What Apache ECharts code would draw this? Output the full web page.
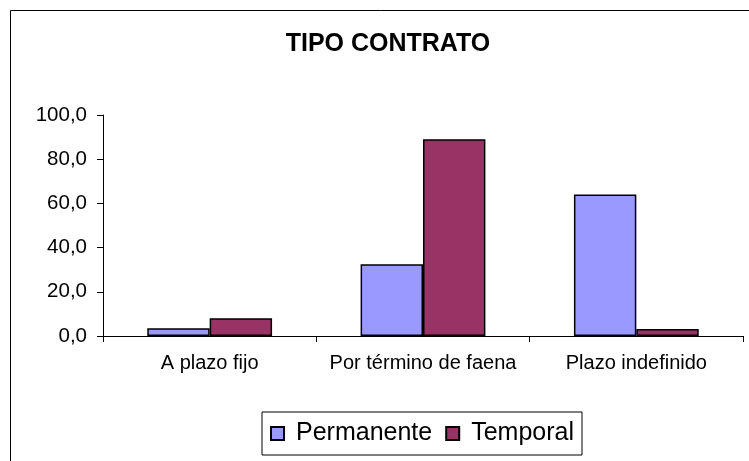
<!DOCTYPE html>
<html>
<head>
<meta charset="utf-8">
<script src="https://cdn.jsdelivr.net/npm/echarts@6/dist/echarts.min.js"></script>
<style>
  html, body { margin: 0; padding: 0; background: #fff; overflow: hidden; }
  #chart { width: 749px; height: 461px; }
</style>
</head>
<body>
<div id="chart"></div>
<script>
// categorias y series
var categories = ["A plazo fijo", "Por término de faena", "Plazo indefinido"];
var permanente = [3.5, 32.5, 64.0];
var temporal = [8.0, 89.0, 3.2];
var yTicks = [0, 20, 40, 60, 80, 100];

var font = "'Liberation Sans', Arial, sans-serif";

var chart = echarts.init(document.getElementById("chart"));
chart.setOption({
  animation: false,
  textStyle: { fontFamily: font },
  graphic: [
    {
      // marco exterior del grafico (cortado abajo y a la derecha)
      type: "rect",
      shape: { x: 10.5, y: 10.5, width: 800, height: 500 },
      style: { fill: "none", stroke: "#000", lineWidth: 1 },
      z: -1
    }
  ],
  title: {
    text: "TIPO CONTRATO",
    left: 383,
    top: 27,
    textAlign: "center",
    textStyle: { fontFamily: font, fontSize: 25, fontWeight: "bold", color: "#000" }
  },
  legend: {
    data: ["Permanente", "Temporal"],
    left: 262,
    top: 412,
    itemWidth: 13,
    itemHeight: 13,
    itemGap: 13,
    padding: [9, 8, 9, 8],
    borderColor: "#000",
    borderWidth: 1,
    icon: "rect",
    textStyle: { fontFamily: font, fontSize: 25, color: "#000", padding: [0, 0, 0, 7] }
  },
  grid: { left: 103, right: 6, top: 115, bottom: 125, containLabel: false },
  xAxis: {
    type: "category",
    data: categories,
    axisLine: { lineStyle: { color: "#000", width: 1 } },
    axisTick: { show: true, length: 6, interval: 0, lineStyle: { color: "#000" } },
    axisLabel: { color: "#000", fontSize: 20, margin: 17, fontFamily: font, interval: 0 },
    splitLine: { show: false }
  },
  yAxis: {
    type: "value",
    min: yTicks[0],
    max: yTicks[yTicks.length - 1],
    interval: 20,
    axisLine: { show: true, lineStyle: { color: "#000", width: 1 } },
    axisTick: { show: true, length: 6, lineStyle: { color: "#000" } },
    axisLabel: {
      color: "#000",
      fontSize: 20.5,
      margin: 16,
      fontFamily: font,
      formatter: function (v) { return v.toFixed(1).replace(".", ","); }
    },
    splitLine: { show: false }
  },
  series: [
    {
      name: "Permanente",
      type: "bar",
      data: permanente,
      barGap: "0%",
      barCategoryGap: "41.5%",
      itemStyle: { color: "#9999FF", borderColor: "#000", borderWidth: 1.5 }
    },
    {
      name: "Temporal",
      type: "bar",
      data: temporal,
      barGap: "0%",
      barCategoryGap: "41.5%",
      itemStyle: { color: "#993366", borderColor: "#000", borderWidth: 1.5 }
    }
  ]
});
</script>
</body>
</html>
